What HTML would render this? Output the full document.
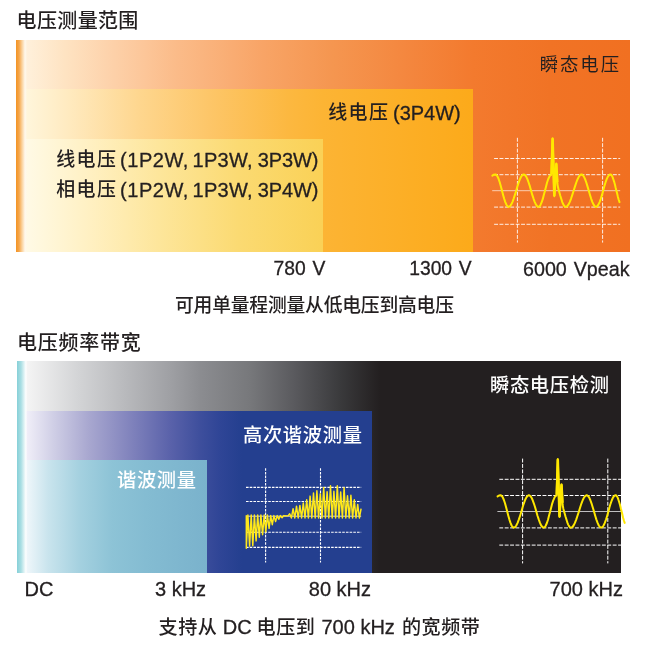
<!DOCTYPE html>
<html lang="zh-CN">
<head>
<meta charset="utf-8">
<title>电压测量范围 / 电压频率带宽</title>
<style>
html,body{margin:0;padding:0;background:#fff;}
body{width:647px;height:645px;position:relative;overflow:hidden;
  font-family:"Liberation Sans","Noto Sans CJK SC",sans-serif;color:#231f20;}
.t{position:absolute;white-space:nowrap;line-height:24px;height:24px;font-size:20px;-webkit-text-stroke:0.3px #231f20;}
.ti,.c{-webkit-text-stroke:0;}
.ti{font-size:20px;letter-spacing:0.35px;font-weight:500;}
.c{font-size:18.4px;letter-spacing:1.95px;font-weight:500;}
.ax{font-size:19.3px;word-spacing:1.4px;}
.cap{font-size:20px;}
.cap .c{font-size:18.8px;letter-spacing:-0.2px;font-weight:500;}
.cap .c.c2{font-size:19.1px;letter-spacing:0.5px;}
.w{color:#fff;}
.d .c{font-weight:400;}
.e .c{font-size:19px;letter-spacing:1.35px;}
.w .c{font-size:19.3px;letter-spacing:0.65px;}
.box{position:absolute;}
svg{position:absolute;left:0;top:0;}
</style>
</head>
<body>
<!-- chart 1 -->
<div class="box" id="c1o" style="left:16px;top:40.2px;width:614.2px;height:211.5px;background:linear-gradient(90deg,#fff1dc 9px,#fee3c2 49px,#fdd0a8 99px,#fbbc8a 158px,#f8a466 247px,#f59650 316px,#f48840 384px,#f37a2e 457px,#f17325 534px,#f17021 614px);"></div>
<div class="box" id="c1m" style="left:16px;top:88.5px;width:457px;height:163px;background:linear-gradient(90deg,#fff6dc 9px,#ffebc2 49px,#fed68e 124px,#fdc566 198px,#fcb840 272px,#fcb434 307px,#fcaa1a 457px);"></div>
<div class="box" id="c1i" style="left:16px;top:138.5px;width:307.3px;height:113px;background:linear-gradient(90deg,#fffae6 9px,#fff0c2 74px,#fde598 148px,#fbda72 223px,#fad156 307px);"></div>
<div class="box" id="c1s" style="left:16px;top:40.2px;width:11px;height:211.5px;background:linear-gradient(90deg,#f39425 0,#f5a548 3px,#fbd29c 6px,#fff8ec 9px,rgba(255,246,228,0) 11px);"></div>

<!-- chart 2 -->
<div class="box" id="c2o" style="left:17px;top:361px;width:604px;height:211.7px;background:linear-gradient(90deg,#f4f4f4 10px,#d3d4d6 61px,#9fa0a4 153px,#8b8c90 184px,#77787b 233px,#5a5a5e 277px,#3a3a3c 323px,#231f20 363px);"></div>
<div class="box" id="c2m" style="left:17px;top:411px;width:355px;height:161.7px;background:linear-gradient(90deg,#f0eef8 10px,#d0cfe6 36px,#a9a8d0 71px,#8486be 110px,#5a62aa 153px,#3d4e9c 184px,#2f4596 203px,#243f8f 225px);"></div>
<div class="box" id="c2i" style="left:17px;top:460px;width:190px;height:112.7px;background:linear-gradient(90deg,#eef6fa 10px,#c9e4ed 31px,#a3d0df 64px,#8dc3d6 95px,#84bcd2 129px,#7ab2cc 190px);"></div>
<div class="box" id="c2s" style="left:17px;top:361px;width:10px;height:211.7px;background:linear-gradient(90deg,#86d0d8 0,#a9dee3 4px,#fff 9px,rgba(255,255,255,0) 10px);"></div>

<svg width="647" height="645" viewBox="0 0 647 645" fill="none">
<line x1="494.1" y1="158.5" x2="620.2" y2="158.5" stroke="#fff" stroke-width="0.95" stroke-opacity="0.92" stroke-dasharray="3.9 1.5"/>
<line x1="494.1" y1="174.7" x2="620.2" y2="174.7" stroke="#fff" stroke-width="0.95" stroke-opacity="0.92" stroke-dasharray="3.9 1.5"/>
<line x1="492.2" y1="190.7" x2="620.2" y2="190.7" stroke="#fff" stroke-width="0.81" stroke-opacity="0.78"/>
<line x1="494.1" y1="207.1" x2="620.2" y2="207.1" stroke="#fff" stroke-width="0.95" stroke-opacity="0.92" stroke-dasharray="3.9 1.5"/>
<line x1="494.1" y1="224.3" x2="620.2" y2="224.3" stroke="#fff" stroke-width="0.95" stroke-opacity="0.92" stroke-dasharray="3.9 1.5"/>
<line x1="517.4" y1="137.8" x2="517.4" y2="242.6" stroke="#fff" stroke-width="0.95" stroke-opacity="0.92" stroke-dasharray="3.9 1.5"/>
<line x1="602.6" y1="137.8" x2="602.6" y2="242.6" stroke="#fff" stroke-width="0.95" stroke-opacity="0.92" stroke-dasharray="3.9 1.5"/>
<path d="M492.4,175.6 L493.8,174.7 L495.4,174.4 L496.5,175.0 L497.6,176.6 L498.7,179.2 L499.8,182.5 L500.9,186.4 L502.0,190.7 L503.1,194.9 L504.2,198.8 L505.3,202.1 L506.4,204.7 L507.5,206.3 L508.6,206.9 L509.9,206.3 L511.1,204.7 L512.4,202.1 L513.6,198.8 L514.9,194.9 L516.2,190.7 L517.4,186.4 L518.7,182.5 L519.9,179.2 L521.2,176.6 L522.4,175.0 L523.7,174.4 L524.9,175.0 L526.2,176.6 L527.4,179.2 L528.6,182.5 L529.9,186.4 L531.1,190.7 L532.3,194.9 L533.6,198.8 L534.8,202.1 L536.0,204.7 L537.3,206.3 L538.5,206.9 L539.6,206.4 L540.6,204.7 L541.7,202.2 L542.8,198.9 L543.8,195.0 L544.9,190.9 L546.0,186.7 L547.0,182.8 L548.1,179.5 L549.2,177.0 L550.2,175.3 L551.3,174.8 L552.6,138.2 L554.3,196.2 L556.3,163.4 L557.4,184.0 L558.2,188.1 L558.9,190.7 L559.6,193.2 L560.3,195.7 L561.0,198.0 L561.7,200.2 L562.3,202.1 L563.0,203.8 L563.7,205.1 L564.4,206.1 L565.1,206.7 L565.8,206.9 L567.1,206.3 L568.4,204.7 L569.7,202.1 L571.0,198.8 L572.3,194.9 L573.6,190.7 L575.0,186.4 L576.3,182.5 L577.6,179.2 L578.9,176.6 L580.2,175.0 L581.5,174.4 L582.7,175.0 L583.9,176.6 L585.1,179.2 L586.3,182.5 L587.5,186.4 L588.8,190.7 L590.0,194.9 L591.2,198.8 L592.4,202.1 L593.6,204.7 L594.8,206.3 L596.0,206.9 L597.2,206.3 L598.4,204.7 L599.6,202.1 L600.8,198.8 L602.0,194.9 L603.1,190.7 L604.3,186.4 L605.5,182.5 L606.7,179.2 L607.9,176.6 L609.1,175.0 L610.3,174.4 L611.1,174.7 L611.8,175.6 L612.6,177.1 L613.3,179.2 L614.1,181.6 L614.9,184.4 L615.6,187.5 L616.4,190.7 L617.2,193.8 L617.9,196.9 L618.7,199.7 L619.5,202.1" stroke="#ffe800" stroke-width="2" stroke-linejoin="round" stroke-linecap="round"/>
<path d="M551.6,174.0 L552.6,138.4 L554.3,196.0 L556.3,163.6 L557.3,182.0" stroke="#ffe800" stroke-width="2.5" stroke-linejoin="miter" stroke-miterlimit="10"/>
<line x1="499.3" y1="479.3" x2="621" y2="479.3" stroke="#fff" stroke-width="1.0" stroke-opacity="1" stroke-dasharray="3.9 1.5"/>
<line x1="499.3" y1="495.5" x2="621" y2="495.5" stroke="#fff" stroke-width="1.0" stroke-opacity="1" stroke-dasharray="3.9 1.5"/>
<line x1="497.4" y1="511.5" x2="621" y2="511.5" stroke="#fff" stroke-width="0.85" stroke-opacity="0.85"/>
<line x1="499.3" y1="527.9" x2="621" y2="527.9" stroke="#fff" stroke-width="1.0" stroke-opacity="1" stroke-dasharray="3.9 1.5"/>
<line x1="499.3" y1="545.1" x2="621" y2="545.1" stroke="#fff" stroke-width="1.0" stroke-opacity="1" stroke-dasharray="3.9 1.5"/>
<line x1="522.6" y1="458.6" x2="522.6" y2="563.4" stroke="#fff" stroke-width="1.0" stroke-opacity="1" stroke-dasharray="3.9 1.5"/>
<line x1="607.8" y1="458.6" x2="607.8" y2="563.4" stroke="#fff" stroke-width="1.0" stroke-opacity="1" stroke-dasharray="3.9 1.5"/>
<path d="M497.6,496.4 L499.0,495.5 L500.6,495.2 L501.7,495.8 L502.8,497.4 L503.9,500.0 L505.0,503.3 L506.1,507.2 L507.2,511.5 L508.3,515.7 L509.4,519.6 L510.5,522.9 L511.6,525.5 L512.7,527.1 L513.8,527.7 L515.1,527.1 L516.3,525.5 L517.6,522.9 L518.8,519.6 L520.1,515.7 L521.4,511.5 L522.6,507.2 L523.9,503.3 L525.1,500.0 L526.4,497.4 L527.6,495.8 L528.9,495.2 L530.1,495.8 L531.4,497.4 L532.6,500.0 L533.8,503.3 L535.1,507.2 L536.3,511.5 L537.5,515.7 L538.8,519.6 L540.0,522.9 L541.2,525.5 L542.5,527.1 L543.7,527.7 L544.8,527.2 L545.8,525.5 L546.9,523.0 L548.0,519.7 L549.0,515.8 L550.1,511.7 L551.2,507.5 L552.2,503.6 L553.3,500.3 L554.4,497.8 L555.4,496.1 L556.5,495.6 L557.8,459.0 L559.5,517.0 L561.5,484.2 L562.6,504.8 L563.4,508.9 L564.1,511.5 L564.8,514.0 L565.5,516.5 L566.2,518.8 L566.9,521.0 L567.5,522.9 L568.2,524.6 L568.9,525.9 L569.6,526.9 L570.3,527.5 L571.0,527.7 L572.3,527.1 L573.6,525.5 L574.9,522.9 L576.2,519.6 L577.5,515.7 L578.9,511.5 L580.2,507.2 L581.5,503.3 L582.8,500.0 L584.1,497.4 L585.4,495.8 L586.7,495.2 L587.9,495.8 L589.1,497.4 L590.3,500.0 L591.5,503.3 L592.7,507.2 L594.0,511.5 L595.2,515.7 L596.4,519.6 L597.6,522.9 L598.8,525.5 L600.0,527.1 L601.2,527.7 L602.4,527.1 L603.6,525.5 L604.8,522.9 L606.0,519.6 L607.2,515.7 L608.4,511.5 L609.5,507.2 L610.7,503.3 L611.9,500.0 L613.1,497.4 L614.3,495.8 L615.5,495.2 L616.3,495.5 L617.0,496.4 L617.8,497.9 L618.5,500.0 L619.3,502.4 L620.1,505.2 L620.8,508.3 L621.6,511.5 L622.4,514.6 L623.1,517.7 L623.9,520.5 L624.7,522.9" stroke="#ffe800" stroke-width="2" stroke-linejoin="round" stroke-linecap="round"/>
<path d="M556.8,494.8 L557.8,459.2 L559.5,516.8 L561.5,484.4 L562.5,502.8" stroke="#ffe800" stroke-width="2.5" stroke-linejoin="miter" stroke-miterlimit="10"/>
<line x1="246" y1="487.4" x2="361.2" y2="487.4" stroke="#fff" stroke-width="1.1" stroke-opacity="1" stroke-dasharray="2.6 1.1"/>
<line x1="246" y1="501.5" x2="361.2" y2="501.5" stroke="#fff" stroke-width="1.1" stroke-opacity="1" stroke-dasharray="2.6 1.1"/>
<line x1="246" y1="516.2" x2="361.2" y2="516.2" stroke="#fff" stroke-width="0.94" stroke-opacity="0.85"/>
<line x1="246" y1="532.2" x2="361.2" y2="532.2" stroke="#fff" stroke-width="1.1" stroke-opacity="1" stroke-dasharray="2.6 1.1"/>
<line x1="246" y1="547.4" x2="361.2" y2="547.4" stroke="#fff" stroke-width="1.1" stroke-opacity="1" stroke-dasharray="2.6 1.1"/>
<line x1="265.6" y1="468.2" x2="265.6" y2="562.5" stroke="#fff" stroke-width="1.1" stroke-opacity="1" stroke-dasharray="2.6 1.1"/>
<line x1="320.5" y1="468.2" x2="320.5" y2="562.5" stroke="#fff" stroke-width="1.1" stroke-opacity="1" stroke-dasharray="2.6 1.1"/>
<path d="M246.3,515.3 L246.3,548.2 L247.9,515.0 L249.6,546.1 L251.2,515.0 L252.8,545.8 L254.4,515.0 L256.1,540.9 L257.7,515.0 L259.3,537.3 L260.9,515.0 L262.6,534.8 L264.2,515.0 L265.8,531.9 L267.4,515.0 L269.1,528.4 L270.7,515.6 L272.3,524.7 L273.9,515.6 L275.6,521.5 L277.2,515.6 L278.8,519.3 L280.4,515.6 L282.1,517.7 L283.7,515.6 L288.0,515.9 L289.7,513.7 L291.4,518.0 L293.1,508.7 L294.8,518.0 L296.5,506.2 L298.2,518.0 L299.9,505.4 L301.6,518.0 L303.3,503.0 L305.0,518.0 L306.7,499.8 L308.4,518.0 L310.1,496.1 L311.8,518.0 L313.5,493.0 L315.2,518.0 L316.9,490.8 L318.6,518.0 L320.3,493.8 L322.0,518.0 L323.7,487.4 L325.4,518.0 L327.1,491.8 L328.8,518.0 L330.5,485.7 L332.2,518.0 L333.9,491.2 L335.6,518.0 L337.3,485.7 L339.0,518.0 L340.7,491.9 L342.4,518.0 L344.1,487.7 L345.8,518.0 L347.5,495.7 L349.2,518.0 L350.9,495.3 L352.6,518.0 L354.3,499.8 L356.0,518.0 L357.7,504.4 L359.4,518.0 L361.1,508.6" stroke="#ffe81a" stroke-width="1.45" stroke-linejoin="round"/>
</svg>

<div class="t ti" id="t1" style="left:16.6px;top:9.3px;">电压测量范围</div>
<div class="t d" id="t2" style="left:539.7px;top:51.6px;"><span class="c">瞬态电压</span></div>
<div class="t e" id="t3a" style="left:328.2px;top:100.4px;"><span class="c">线电压</span></div>
<div class="t" id="t3b" style="left:393px;top:101.4px;">(3P4W)</div>
<div class="t e" id="t4a" style="left:56.2px;top:147.4px;"><span class="c">线电压</span></div>
<div class="t" id="t4b" style="left:120px;top:148.4px;letter-spacing:0.55px;">(1P2W,</div>
<div class="t" id="t4c" style="left:192.5px;top:148.4px;letter-spacing:0.3px;">1P3W,</div>
<div class="t" id="t4d" style="left:257.8px;top:148.4px;letter-spacing:-0.1px;">3P3W)</div>
<div class="t e" id="t5a" style="left:56.2px;top:177.4px;"><span class="c">相电压</span></div>
<div class="t" id="t5b" style="left:120px;top:178.4px;letter-spacing:0.55px;">(1P2W,</div>
<div class="t" id="t5c" style="left:192.5px;top:178.4px;letter-spacing:0.3px;">1P3W,</div>
<div class="t" id="t5d" style="left:257.8px;top:178.4px;letter-spacing:-0.1px;">3P4W)</div>
<div class="t ax" id="t6" style="left:273.5px;top:257px;">780 V</div>
<div class="t ax" id="t7" style="left:409.2px;top:257px;">1300 V</div>
<div class="t ax" id="t8" style="font-size:19.7px;left:523px;top:256.5px;">6000 Vpeak</div>
<div class="t cap" id="t9" style="left:175px;top:292.5px;"><span class="c">可用单量程测量从低电压到高电压</span></div>

<div class="t ti" id="t10" style="left:17px;top:330.8px;letter-spacing:0.75px;">电压频率带宽</div>
<div class="t w" id="t11" style="left:490px;top:372.7px;"><span class="c">瞬态电压检测</span></div>
<div class="t w" id="t12" style="left:243px;top:422.7px;"><span class="c">高次谐波测量</span></div>
<div class="t w" id="t13" style="left:117px;top:467.7px;"><span class="c">谐波测量</span></div>
<div class="t" id="t14" style="left:24.5px;top:577px;">DC</div>
<div class="t" id="t15" style="left:155px;top:577px;">3 kHz</div>
<div class="t" id="t16" style="left:308.8px;top:577px;">80 kHz</div>
<div class="t" id="t17" style="left:549.6px;top:577px;">700 kHz</div>
<div class="t cap" id="t18a" style="left:158.6px;top:615px;"><span class="c c2">支持从</span></div>
<div class="t cap" id="t18b" style="left:222.7px;top:615px;">DC</div>
<div class="t cap" id="t18c" style="left:256.6px;top:615px;"><span class="c c2">电压到</span></div>
<div class="t cap" id="t18d" style="left:321.5px;top:615px;">700 kHz</div>
<div class="t cap" id="t18e" style="left:402px;top:615px;"><span class="c c2">的宽频带</span></div>
</body>
</html>
